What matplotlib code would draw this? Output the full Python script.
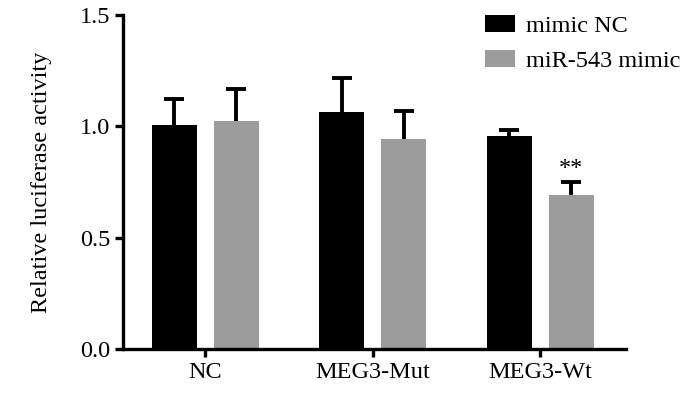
import numpy as np
import matplotlib as mpl
mpl.use("Agg")
import matplotlib.pyplot as plt

mpl.rcParams.update({
    "font.family": ["Liberation Serif", "DejaVu Serif"],
    "font.size": 17.5,
})

# data
groups = ["NC", "MEG3-Mut", "MEG3-Wt"]
series = ["mimic NC", "miR-543 mimic"]
mimic_nc = [1.005, 1.064, 0.955]
mimic_nc_err = [0.116, 0.151, 0.028]
mir543 = [1.025, 0.943, 0.692]
mir543_err = [0.142, 0.126, 0.056]
signif = ["", "", "**"]

yticks = [0.0, 0.5, 1.0, 1.5]

color_black = '#000000'
color_gray = '#9c9c9c'

fig = plt.figure(figsize=(7, 3.95), dpi=100)
ax = fig.add_axes([0.176, 0.1165, 0.718, 0.8455])

x = np.arange(len(groups))
width = 0.27
offset = 0.185

err_kw = dict(ecolor='black', elinewidth=2.8, capsize=7, capthick=2.8)

b0 = ax.bar(x - offset, mimic_nc, width, color=color_black,
            yerr=[np.zeros(len(groups)), mimic_nc_err], error_kw=err_kw,
            label=series[0])
b1 = ax.bar(x + offset, mir543, width, color=color_gray,
            yerr=[np.zeros(len(groups)), mir543_err], error_kw=err_kw,
            label=series[1])

# only the upper cap is shown
for b in (b0, b1):
    caps = b.errorbar.lines[1]
    caps[0].set_visible(False)

for i, s in enumerate(signif):
    if s:
        ax.text(x[i] + offset, mir543[i] + mir543_err[i] + 0.015, s,
                ha='center', va='bottom', fontsize=17.5)

ax.set_xlim(-0.49, 2.51)
ax.set_ylim(0, 1.5)
ax.set_yticks(yticks)
ax.set_yticklabels(["%.1f" % t for t in yticks])
ax.set_xticks(x)
ax.set_xticklabels(groups)
ax.set_ylabel("Relative luciferase activity", labelpad=20)

#set axis properties
ax.spines['right'].set_visible(False)
ax.spines['top'].set_visible(False)
ax.spines['left'].set_linewidth(2.4)
ax.spines['bottom'].set_linewidth(2.4)
ax.tick_params(width=2.4, length=6, direction='out')

ax.legend(frameon=False, loc='upper left', bbox_to_anchor=(0.70, 1.028),
          handlelength=1.25, handleheight=0.7, handletextpad=0.45,
          labelspacing=0.5, borderaxespad=0)

fig.savefig('out.png', dpi=100)
